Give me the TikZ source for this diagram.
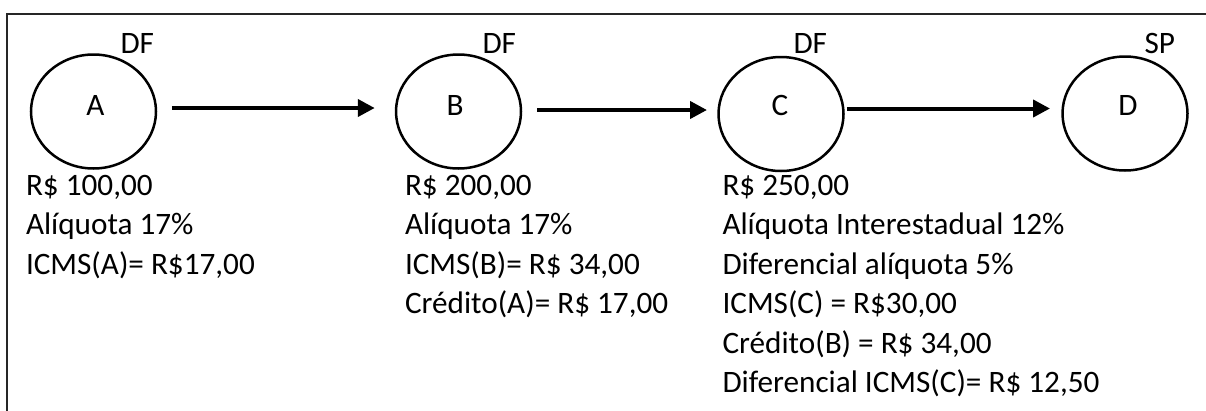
\documentclass[tikz,border=0pt]{standalone}
\usepackage{fontspec}
\setmainfont{Carlito}
\usetikzlibrary{arrows.meta,shapes.geometric}
\begin{document}
\begin{tikzpicture}[x=1pt,y=-1pt,
  every node/.style={font=\fontsize{31.2}{37}\selectfont, inner sep=0pt, outer sep=0pt},
  circ/.style={draw, ellipse, line width=2.5pt, minimum width=125pt, minimum height=114pt},
  txt/.style={anchor=base west},
  lett/.style={anchor=base},
  flow/.style={line width=4pt, -{Triangle[length=17pt,width=17pt]}},
  frame/.style={draw=black!85, line width=2.2pt}
]
\useasboundingbox (0,0) rectangle (1206,410);
\coordinate (f1) at (7,412);
\coordinate (f2) at (7,14);
\coordinate (f3) at (1208,14);
\draw[frame] (f1) -- (f2) -- (f3);

% circles
\node[circ] (A) at (93.5,111.5) {};
\node[circ] (B) at (458.5,111.5) {};
\node[circ] (C) at (781,114) {};
\node[circ] (D) at (1125,113.5) {};

% letters
\node[lett] (lA) at (95.5,115) {A};
\node[lett] (lB) at (455,115) {B};
\node[lett] (lC) at (780,115) {C};
\node[lett] (lD) at (1128,115) {D};

% states
\node[txt] (sA) at (120.5,53) {DF};
\node[txt] (sB) at (482.5,53) {DF};
\node[txt] (sC) at (793.5,53) {DF};
\node[txt] (sD) at (1144.5,53) {SP};

% arrows
\draw[flow, shorten <=15.75pt, shorten >=21.25pt] ([yshift=3.5pt]A.east) -- ([yshift=3.5pt]B.west);
\draw[flow, shorten <=16.25pt, shorten >=11.5pt] ([yshift=1.5pt]B.east) -- ([yshift=4pt]C.west);
\draw[flow, shorten <=3.5pt, shorten >=12.5pt] ([yshift=5.5pt]C.east) -- ([yshift=5pt]D.west);

% texts A
\node[txt] (a1) at (26,195) {R\$ 100,00};
\node[txt] (a2) at (26,234.5) {Alíquota 17\%};
\node[txt] (a3) at (26,274) {ICMS(A)= R\$17,00};

% texts B
\node[txt] (b1) at (405,195) {R\$ 200,00};
\node[txt] (b2) at (405,234.5) {Alíquota 17\%};
\node[txt] (b3) at (405,274) {ICMS(B)= R\$ 34,00};
\node[txt] (b4) at (405,313.5) {Crédito(A)= R\$ 17,00};

% texts C
\node[txt] (c1) at (722.5,195) {R\$ 250,00};
\node[txt] (c2) at (722.5,234.5) {Alíquota Interestadual 12\%};
\node[txt] (c3) at (722.5,274) {Diferencial alíquota 5\%};
\node[txt] (c4) at (722.5,313.5) {ICMS(C) = R\$30,00};
\node[txt] (c5) at (722.5,353) {Crédito(B) = R\$ 34,00};
\node[txt] (c6) at (722.5,392.5) {Diferencial ICMS(C)= R\$ 12,50};
\end{tikzpicture}
\end{document}
